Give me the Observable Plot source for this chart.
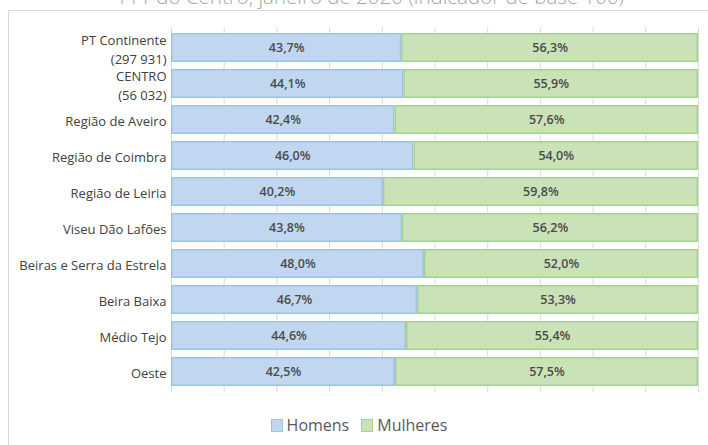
<!DOCTYPE html>
<html>
<head>
<meta charset="utf-8">
<script src="https://cdn.jsdelivr.net/npm/d3@7"></script>
<script src="https://cdn.jsdelivr.net/npm/@observablehq/plot@0.6"></script>
<style>
  html, body { margin: 0; padding: 0; background: #fff; overflow: hidden; }
  body { width: 708px; height: 445px; position: relative; font-family: "Open Sans", "Liberation Sans", sans-serif; }
  #title { position: absolute; left: 0; width: 740px; top: -18px; text-align: center; font-size: 20.5px; color: #a6a6a6; white-space: nowrap; font-family: "Open Sans", sans-serif; font-weight: 300; }
  #box { position: absolute; left: 8px; top: 10px; width: 720px; height: 460px; border-left: 1px solid #d9d9d9; border-top: 1px solid #d9d9d9; }
  #legend { position: absolute; left: 0; width: 700px; top: 403px; text-align: center; font-size: 16px; color: #595959; }
  #legend span.sw { display: inline-block; width: 10px; height: 11px; vertical-align: -1px; margin-right: 4px; }
  #legend span.item { margin: 0 6px; }
</style>
</head>
<body>
<div id="title">111 do Centro, janeiro de 2020 (indicador de base 100)</div>
<div id="box">
  <div id="chart"></div>
  <div id="legend"></div>
</div>
<script>
const regions = ["PT Continente", "CENTRO", "Região de Aveiro", "Região de Coimbra", "Região de Leiria", "Viseu Dão Lafões", "Beiras e Serra da Estrela", "Beira Baixa", "Médio Tejo", "Oeste"];
const regionLabels = ["PT Continente\n(297 931)", "CENTRO\n(56 032)", "Região de Aveiro", "Região de Coimbra", "Região de Leiria", "Viseu Dão Lafões", "Beiras e Serra da Estrela", "Beira Baixa", "Médio Tejo", "Oeste"];
const homens = [43.7, 44.1, 42.4, 46.0, 40.2, 43.8, 48.0, 46.7, 44.6, 42.5];
const mulheres = [56.3, 55.9, 57.6, 54.0, 59.8, 56.2, 52.0, 53.3, 55.4, 57.5];
const series = ["Homens", "Mulheres"];
const fills = ["#c0d7ef", "#c9e2b8"];
const strokes = ["#9dc3e6", "#a9d18e"];
const xTicks = [0, 10, 20, 30, 40, 50, 60, 70, 80, 90, 100];

const data = [];
regions.forEach((r, i) => {
  data.push({region: r, sex: "Homens", value: homens[i]});
  data.push({region: r, sex: "Mulheres", value: mulheres[i]});
});
const labelRows = regions.map((r, i) => ({region: r, label: regionLabels[i]}));
const fmt = v => v.toFixed(1).replace(".", ",") + "%";

const chart = Plot.plot({
  width: 700,
  height: 385,
  marginLeft: 162,
  marginRight: 11,
  marginTop: 16,
  marginBottom: 4,
  style: {fontFamily: "'Open Sans', 'Liberation Sans', sans-serif", fontSize: "12px", color: "#404040", background: "transparent"},
  x: {domain: [0, 100], axis: null},
  y: {domain: regions, paddingInner: 0.2, paddingOuter: 0.14, axis: null},
  color: {domain: series, range: fills},
  marks: [
    Plot.ruleX(xTicks, {x: d => d, stroke: "#d9d9d9", strokeWidth: 1}),
    Plot.barX(data, Plot.stackX({
      x: "value", y: "region", z: "sex", order: series,
      fill: "sex",
      stroke: d => strokes[series.indexOf(d.sex)],
      strokeWidth: 1.5, inset: 0.75
    })),
    Plot.text(data, Plot.stackX({
      x: "value", y: "region", z: "sex", order: series,
      text: d => fmt(d.value), fill: "#4a4a4a", fontSize: 12.5, fontWeight: 600
    })),
    Plot.text(labelRows, {
      y: "region", text: "label", frameAnchor: "left", dx: -5,
      textAnchor: "end", lineHeight: 1.5, fill: "#404040", fontSize: 13
    })
  ]
});
document.getElementById("chart").appendChild(chart);

const legend = document.getElementById("legend");
series.forEach((s, i) => {
  const item = document.createElement("span");
  item.className = "item";
  const sw = document.createElement("span");
  sw.className = "sw";
  sw.style.background = fills[i];
  sw.style.border = "1px solid " + strokes[i];
  item.appendChild(sw);
  item.appendChild(document.createTextNode(s));
  legend.appendChild(item);
});
</script>
</body>
</html>
